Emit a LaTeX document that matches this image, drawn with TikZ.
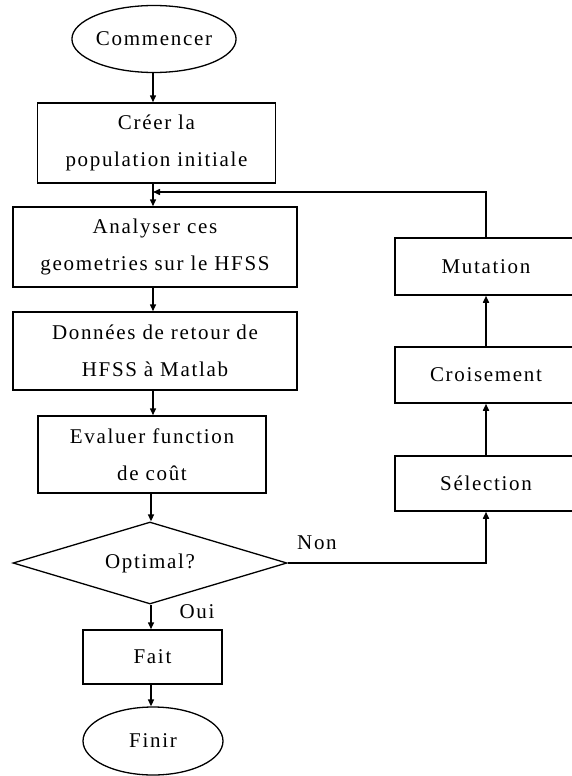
\documentclass[tikz,border=0pt]{standalone}
\usepackage{fontspec}
\setmainfont[LetterSpace=8]{Liberation Serif}
\usetikzlibrary{shapes.geometric,arrows.meta}
\begin{document}
\begin{tikzpicture}[x=1pt,y=-1pt,
  every node/.style={font=\fontsize{21}{37}\selectfont, inner sep=0pt},
  box/.style={draw, line width=1.5pt, rectangle, align=center},
  oval/.style={draw, line width=1.3pt, ellipse},
  flow/.style={line width=1.5pt, -{Triangle[length=7pt,width=6pt]}},
  lbl/.style={font=\fontsize{21}{22}\selectfont}]
\path[use as bounding box] (0,0) rectangle (572,776);
\begin{scope}
\clip (0,0) rectangle (572,776);
\node[oval, minimum width=142pt, minimum height=67pt] (start) at (154,39) {Commencer};
\node[box, minimum width=238pt, minimum height=80pt] (create) at (156.5,143) {Créer la\\population initiale};
\node[box, minimum width=284pt, minimum height=80pt] (analyse) at (155,247) {Analyser ces\\geometries sur le HFSS};
\node[box, minimum width=284pt, minimum height=78pt] (data) at (155,351) {Données de retour de\\HFSS à Matlab};
\node[box, minimum width=228pt, minimum height=77pt] (eval) at (152,454.5) {Evaluer function\\de coût};
\node[draw, line width=1.3pt, shape=diamond, minimum width=274pt, minimum height=82pt, aspect=3.34] (opt) at (150,563) {};
\node (optlabel) at (opt) {Optimal?};
\node[box, minimum width=139pt, minimum height=54pt] (done) at (152.5,657) {Fait};
\node[oval, minimum width=140pt, minimum height=68pt] (stop) at (153,741) {Finir};
\node[box, minimum width=182pt, minimum height=57pt] (mut) at (486,266.5) {Mutation};
\node[box, minimum width=182pt, minimum height=56pt] (cross) at (486,375) {Croisement};
\node[box, minimum width=182pt, minimum height=55pt] (sel) at (486,483.5) {Sélection};
\coordinate (join) at (153,192);
\coordinate (corner) at (486,192);
\coordinate (nonc) at (486,563);
\draw[flow] (153,0 |- start.south) -- (153,0 |- create.north);
\draw[line width=1.5pt] (153,0 |- create.south) -- (join);
\draw[flow] (join) -- (153,0 |- analyse.north);
\draw[flow] (analyse.south -| 153,0) -- (data.north -| 153,0);
\draw[flow] (data.south -| 153,0) -- (eval.north -| 153,0);
\draw[flow] (eval.south -| 151,0) -- (opt.north -| 151,0);
\draw[flow] (opt.south -| 151,0) -- (done.north -| 151,0);
\draw[flow] (done.south -| 151,0) -- (stop.north -| 151,0);
\draw[flow] (mut.north) -- (corner) -- (join);
\draw[flow] (opt.east) -- (nonc) -- (sel.south);
\draw[flow] (sel.north) -- (cross.south);
\draw[flow] (cross.north) -- (mut.south);
\node[lbl] (non) at (317,543) {Non};
\node[lbl] (oui) at (197,612) {Oui};
\end{scope}
\end{tikzpicture}
\end{document}
